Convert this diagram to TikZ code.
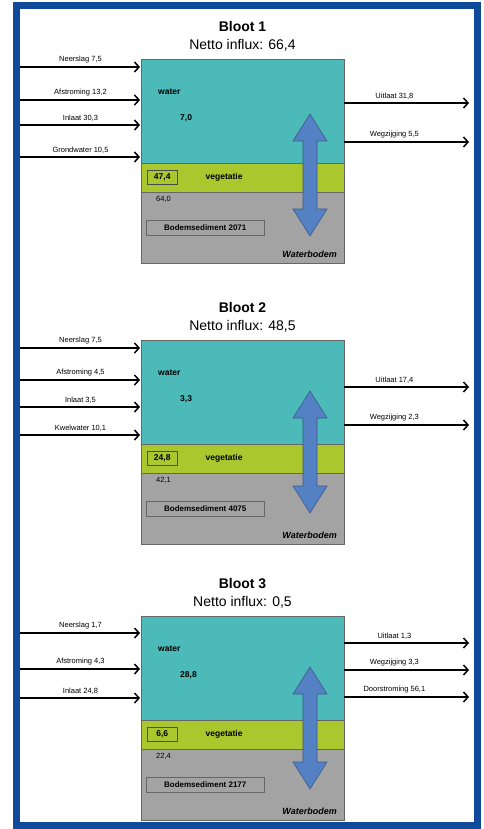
\documentclass[tikz,border=0pt]{standalone}
\usepackage{fontspec}
\setmainfont{Liberation Sans}
\usetikzlibrary{arrows.meta}
\usetikzlibrary{positioning}

\definecolor{framecol}{RGB}{16,74,154}
\definecolor{watercol}{RGB}{76,186,184}
\definecolor{vegcol}{RGB}{170,199,46}
\definecolor{soilcol}{RGB}{163,163,163}
\definecolor{pipecol}{RGB}{84,128,196}

\begin{document}
\begin{tikzpicture}[x=1pt,y=-1pt,>={Straight Barb[length=4.5pt,width=10pt]},
  layer/.style={rectangle,draw=black!60,line width=.5pt,minimum width=203pt,inner sep=0pt,outer sep=0pt},
  water node/.style={layer,fill=watercol,minimum height=104pt,anchor=north west},
  veg node/.style={layer,fill=vegcol,minimum height=29pt},
  soil node/.style={layer,fill=soilcol,minimum height=71pt},
  title/.style={font=\fontsize{14}{16}\selectfont,inner sep=1pt},
  flow/.style={->,line width=1.5pt,shorten >=1pt},
  side/.style={font=\fontsize{7.5}{8}\selectfont,inner sep=1pt,above=2pt},
  inner/.style={font=\fontsize{8.5}{9}\selectfont\bfseries,inner sep=0pt},
  valbox/.style={inner,draw=black!70,line width=.5pt,minimum width=30pt,minimum height=14pt},
  sedbox/.style={inner,font=\fontsize{8}{9}\selectfont\bfseries,fill=soilcol,draw=black!60,line width=.5pt,minimum width=118pt,minimum height=15pt},
  updown/.pic={\filldraw[fill=pipecol,draw=pipecol!70!black,line width=.6pt]
    (0,-61) -- (17,-34) -- (7,-34) -- (7,34) -- (17,34) -- (0,61)
    -- (-17,34) -- (-7,34) -- (-7,-34) -- (-17,-34) -- cycle;}]

  \useasboundingbox (0,0) rectangle (484,829);
  \draw[framecol,line width=7pt] (16.5,6) rectangle (477,825.5);

  % Bloot 1
  \node[water node] (w1) at (141,59) {};
  \node[veg node] (v1) [below=0pt of w1] {};
  \node[soil node] (s1) [below=0pt of v1] {};
  \node[title] (n1) [above=7pt of w1] {Netto influx: 66,4};
  \node[title,font=\fontsize{14}{16}\selectfont\bfseries] (t1) [above=5pt of n1] {Bloot 1};

  \node[inner] (wl1) [below right=30pt and 17pt of w1.north west] {water};
  \node[inner] (wv1) [below right=22pt and 22pt of wl1.west] {7,0};
  \node[valbox] (vb1) [right=6pt of v1.west] {47,4};
  \node[inner] (vl1) [right=28pt of vb1] {vegetatie};
  \node[inner,font=\fontsize{7.5}{8}\selectfont] (sv1) [below right=4pt and 15pt of s1.north west] {64,0};
  \node[sedbox] (sb1) [below right=28pt and 5pt of s1.north west] {Bodemsediment 2071};
  \node[inner,font=\fontsize{9}{10}\selectfont\bfseries\itshape] (sl1) [above left=5pt and 7pt of s1.south east] {Waterbodem};
  \pic at (310,175) {updown};

  \coordinate (in11) at (20,67);
  \coordinate (in12) at (20,100);
  \coordinate (in13) at (20,125);
  \coordinate (in14) at (20,157);
  \coordinate (out11) at (470,103);
  \coordinate (out12) at (470,142);
  \path (in11) edge[flow] node[side] {Neerslag 7,5} (in11 -| w1.west)
    (in12) edge[flow] node[side] {Afstroming 13,2} (in12 -| w1.west)
    (in13) edge[flow] node[side] {Inlaat 30,3} (in13 -| w1.west)
    (in14) edge[flow] node[side] {Grondwater 10,5} (in14 -| w1.west)
    (out11 -| w1.east) edge[flow] node[side,pos=.4] {Uitlaat 31,8} (out11)
    (out12 -| w1.east) edge[flow] node[side,pos=.4] {Wegzijging 5,5} (out12);

  % Bloot 2
  \node[water node] (w2) at (141,340) {};
  \node[veg node] (v2) [below=0pt of w2] {};
  \node[soil node] (s2) [below=0pt of v2] {};
  \node[title] (n2) [above=7pt of w2] {Netto influx: 48,5};
  \node[title,font=\fontsize{14}{16}\selectfont\bfseries] (t2) [above=5pt of n2] {Bloot 2};

  \node[inner] (wl2) [below right=30pt and 17pt of w2.north west] {water};
  \node[inner] (wv2) [below right=22pt and 22pt of wl2.west] {3,3};
  \node[valbox] (vb2) [right=6pt of v2.west] {24,8};
  \node[inner] (vl2) [right=28pt of vb2] {vegetatie};
  \node[inner,font=\fontsize{7.5}{8}\selectfont] (sv2) [below right=4pt and 15pt of s2.north west] {42,1};
  \node[sedbox] (sb2) [below right=28pt and 5pt of s2.north west] {Bodemsediment 4075};
  \node[inner,font=\fontsize{9}{10}\selectfont\bfseries\itshape] (sl2) [above left=5pt and 7pt of s2.south east] {Waterbodem};
  \pic at (310,452) {updown};

  \coordinate (in21) at (20,348);
  \coordinate (in22) at (20,380);
  \coordinate (in23) at (20,407);
  \coordinate (in24) at (20,435);
  \coordinate (out21) at (470,387);
  \coordinate (out22) at (470,425);
  \path (in21) edge[flow] node[side] {Neerslag 7,5} (in21 -| w2.west)
    (in22) edge[flow] node[side] {Afstroming 4,5} (in22 -| w2.west)
    (in23) edge[flow] node[side] {Inlaat 3,5} (in23 -| w2.west)
    (in24) edge[flow] node[side] {Kwelwater 10,1} (in24 -| w2.west)
    (out21 -| w2.east) edge[flow] node[side,pos=.4] {Uitlaat 17,4} (out21)
    (out22 -| w2.east) edge[flow] node[side,pos=.4] {Wegzijging 2,3} (out22);

  % Bloot 3
  \node[water node] (w3) at (141,616) {};
  \node[veg node] (v3) [below=0pt of w3] {};
  \node[soil node] (s3) [below=0pt of v3] {};
  \node[title] (n3) [above=7pt of w3] {Netto influx: 0,5};
  \node[title,font=\fontsize{14}{16}\selectfont\bfseries] (t3) [above=5pt of n3] {Bloot 3};

  \node[inner] (wl3) [below right=30pt and 17pt of w3.north west] {water};
  \node[inner] (wv3) [below right=22pt and 22pt of wl3.west] {28,8};
  \node[valbox] (vb3) [right=6pt of v3.west] {6,6};
  \node[inner] (vl3) [right=28pt of vb3] {vegetatie};
  \node[inner,font=\fontsize{7.5}{8}\selectfont] (sv3) [below right=4pt and 15pt of s3.north west] {22,4};
  \node[sedbox] (sb3) [below right=28pt and 5pt of s3.north west] {Bodemsediment 2177};
  \node[inner,font=\fontsize{9}{10}\selectfont\bfseries\itshape] (sl3) [above left=5pt and 7pt of s3.south east] {Waterbodem};
  \pic at (310,728) {updown};

  \coordinate (in31) at (20,633);
  \coordinate (in32) at (20,669);
  \coordinate (in33) at (20,698);
  \coordinate (out31) at (470,643);
  \coordinate (out32) at (470,670);
  \coordinate (out33) at (470,697);
  \path (in31) edge[flow] node[side] {Neerslag 1,7} (in31 -| w3.west)
    (in32) edge[flow] node[side] {Afstroming 4,3} (in32 -| w3.west)
    (in33) edge[flow] node[side] {Inlaat 24,8} (in33 -| w3.west)
    (out31 -| w3.east) edge[flow] node[side,pos=.4] {Uitlaat 1,3} (out31)
    (out32 -| w3.east) edge[flow] node[side,pos=.4] {Wegzijging 3,3} (out32)
    (out33 -| w3.east) edge[flow] node[side,pos=.4] {Doorstroming 56,1} (out33);
\end{tikzpicture}
\end{document}
